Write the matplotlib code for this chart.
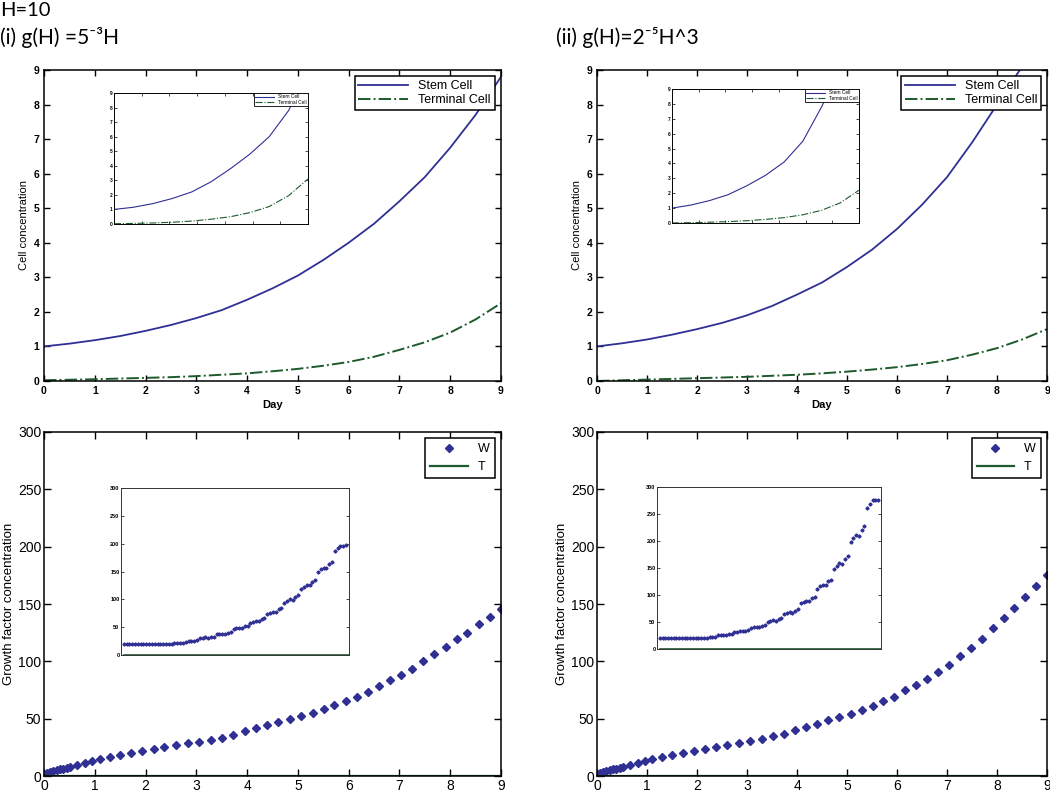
import matplotlib
matplotlib.use("Agg")
import matplotlib.pyplot as plt
import numpy as np

plt.rcParams["font.family"] = ["Liberation Sans", "DejaVu Sans"]

# top row: cell concentration vs day
day = [0, 0.5, 1, 1.5, 2, 2.5, 3, 3.5, 4, 4.5, 5, 5.5, 6, 6.5, 7, 7.5, 8, 8.5, 9]
stem_i = [1.0, 1.08, 1.18, 1.3, 1.45, 1.62, 1.82, 2.05, 2.35, 2.68, 3.05, 3.5, 4.0, 4.55, 5.2, 5.9, 6.75, 7.7, 8.8]
term_i = [0.02, 0.035, 0.05, 0.07, 0.09, 0.11, 0.14, 0.18, 0.22, 0.28, 0.35, 0.44, 0.55, 0.7, 0.9, 1.12, 1.4, 1.78, 2.25]
stem_ii = [1.0, 1.09, 1.2, 1.34, 1.5, 1.68, 1.9, 2.17, 2.5, 2.85, 3.3, 3.8, 4.4, 5.1, 5.9, 6.9, 8.0, 9.1, 10.2]
term_ii = [0.0, 0.02, 0.04, 0.06, 0.08, 0.1, 0.12, 0.15, 0.18, 0.22, 0.27, 0.33, 0.4, 0.49, 0.6, 0.76, 0.95, 1.2, 1.5]

# top insets (no x labels, fraction of run)
frac = [0, 0.1, 0.2, 0.3, 0.4, 0.5, 0.6, 0.7, 0.8, 0.9, 1.0]
ins_stem_i = [1.0, 1.15, 1.4, 1.75, 2.2, 2.9, 3.8, 4.8, 6.0, 7.8, 10.5]
ins_term_i = [0.02, 0.04, 0.07, 0.12, 0.2, 0.33, 0.5, 0.78, 1.2, 1.95, 3.1]
ins_stem_ii = [1.0, 1.2, 1.5, 1.9, 2.5, 3.2, 4.1, 5.5, 7.8, 10.5, 13.0]
ins_term_ii = [0.0, 0.02, 0.05, 0.09, 0.15, 0.24, 0.36, 0.55, 0.85, 1.35, 2.2]

# bottom row: growth factor W vs day
t_w = [0, 0.05, 0.11, 0.18, 0.25, 0.31, 0.38, 0.45, 0.51, 0.65, 0.81, 0.95, 1.10, 1.30, 1.50,
       1.72, 1.93, 2.16, 2.37, 2.60, 2.84, 3.05, 3.29, 3.51, 3.73, 3.95, 4.17, 4.39, 4.61, 4.84,
       5.07, 5.29, 5.51, 5.72, 5.94, 6.16, 6.38, 6.60, 6.82, 7.04, 7.25, 7.47, 7.69, 7.91, 8.13,
       8.34, 8.56, 8.78, 9.0]
w_i = [2.0, 2.9, 3.8, 4.6, 5.2, 5.8, 6.5, 7.0, 7.5, 9.3, 11.3, 13.1, 15.1, 16.9, 18.3,
       20.1, 21.5, 23.2, 25.0, 26.7, 28.5, 29.9, 31.4, 33.5, 36.0, 39.0, 41.5, 44.5, 47.0, 49.5,
       52.3, 54.6, 58.4, 61.9, 65.4, 69.2, 73.5, 78.2, 83.7, 88.1, 93.6, 100.0, 106.1, 112.5, 119.4,
       124.9, 132.2, 138.3, 145.6]
w_ii = [2.0, 2.9, 3.8, 4.6, 5.2, 5.8, 6.5, 7.0, 7.5, 9.3, 11.3, 13.1, 15.1, 16.9, 18.4,
        20.2, 21.7, 23.5, 25.3, 27.1, 29.0, 30.6, 32.3, 34.5, 37.0, 40.0, 42.7, 45.7, 48.5, 51.2,
        54.1, 57.5, 61.3, 65.7, 69.2, 74.7, 79.1, 84.6, 90.9, 97.1, 104.4, 111.6, 119.7, 128.8, 137.8,
        146.8, 155.8, 165.7, 175.2]

# bottom insets
ins_w_i = [20] * 18 + [21, 21, 22, 22, 24, 25, 25, 25, 27, 30, 31, 32, 30, 32, 33, 37, 38, 38, 38, 40,
           41, 47, 48, 48, 48, 52, 53, 58, 60, 61, 62, 64, 66, 74, 76, 78, 78, 82, 85, 94, 97, 100,
           98, 104, 107, 119, 122, 125, 126, 131, 134, 150, 154, 157, 156, 164, 168, 187, 192, 195,
           196, 198]
ins_w_ii = [20] * 15 + [21, 21, 21, 22, 22, 23, 25, 25, 26, 26, 27, 28, 31, 32, 33, 33, 34, 35, 39,
            40, 41, 41, 43, 45, 50, 52, 53, 52, 56, 58, 65, 67, 68, 67, 71, 74, 85, 87, 89, 89, 94,
            97, 112, 116, 119, 118, 125, 128, 149, 154, 159, 158, 167, 172, 199, 205, 211, 209, 220,
            228, 261, 268, 276, 275, 275]

navy = "#2f2f94"
green = "#1d5a2c"

fig = plt.figure(figsize=(10.5, 7.96), dpi=100)


def style(ax, size, ticklen=4, pad=3.5):
    ax.tick_params(direction="in", top=True, right=True, labelsize=size, length=ticklen, width=1, pad=pad)
    for s in ax.spines.values():
        s.set_linewidth(1.1)
    for lab in ax.get_xticklabels() + ax.get_yticklabels():
        lab.set_fontweight("bold")


def top_panel(rect, stem, term, inrect, istem, iterm):
    ax = fig.add_axes(rect)
    ax.plot(day, stem, color=navy, lw=1.3, label="Stem Cell")
    ax.plot(day, term, color=green, lw=1.4, ls="-.", label="Terminal Cell")
    ax.set_xlim(0, 9)
    ax.set_ylim(0, 9)
    ax.set_xticks(range(10))
    ax.set_yticks(range(10))
    ax.set_xlabel("Day", fontsize=8, fontweight="bold", labelpad=3)
    ax.set_ylabel("Cell concentration", fontsize=8, labelpad=3)
    style(ax, 7.5)
    ax.legend(loc="upper right", fontsize=9, handlelength=4, fancybox=False,
              edgecolor="black", framealpha=1, borderaxespad=0.5, borderpad=0.3,
              labelspacing=0.2).get_frame().set_linewidth(1.1)

    ia = fig.add_axes(inrect)
    ia.plot(frac, istem, color=navy, lw=0.8, label="Stem Cell")
    ia.plot(frac, iterm, color=green, lw=0.8, ls="-.", label="Terminal Cell")
    ia.set_xlim(0, 1)
    ia.set_ylim(0, 9)
    ia.set_yticks(range(10))
    ia.set_xticks(np.linspace(0, 1, 8))
    ia.set_xticklabels([])
    ia.tick_params(direction="in", top=True, right=True, labelsize=3.5, length=2, width=0.5, pad=1)
    for lab in ia.get_yticklabels():
        lab.set_fontweight("bold")
    for s in ia.spines.values():
        s.set_linewidth(0.7)
    ia.legend(loc="upper right", fontsize=3.5, handlelength=4, fancybox=False,
              edgecolor="black", framealpha=1, borderaxespad=0.1, borderpad=0.2,
              labelspacing=0.1).get_frame().set_linewidth(0.6)


def bottom_panel(rect, w, inrect, iw):
    ax = fig.add_axes(rect)
    ax.plot(t_w, w, ls="none", marker="D", ms=4, color=navy, mec=navy, label="W")
    ax.plot([0, 9], [0, 0], color=green, lw=1.6, label="T")
    ax.set_xlim(0, 9)
    ax.set_ylim(0, 300)
    ax.set_xticks(range(10))
    ax.set_yticks(range(0, 301, 50))
    ax.set_ylabel("Growth factor concentration", fontsize=9.5, labelpad=2)
    style(ax, 10, ticklen=5, pad=2)
    for lab in ax.get_xticklabels() + ax.get_yticklabels():
        lab.set_fontweight("normal")
    ax.legend(loc="upper right", fontsize=9, handlelength=3, fancybox=False,
              edgecolor="black", framealpha=1, borderaxespad=0.5, borderpad=0.4,
              labelspacing=0.5).get_frame().set_linewidth(1.1)

    ia = fig.add_axes(inrect)
    idx = np.arange(len(iw))
    ia.plot(idx, iw, ls="none", marker="D", ms=1.6, color=navy, mec=navy)
    ia.plot([0, len(iw)], [0, 0], color=green, lw=1.2)
    ia.set_xlim(-1, len(iw))
    ia.set_ylim(0, 300)
    ia.set_yticks(range(0, 301, 50))
    ia.set_xticks([])
    ia.tick_params(direction="in", right=True, labelsize=4, length=2, width=0.5, pad=1)
    for lab in ia.get_yticklabels():
        lab.set_fontweight("bold")
    for s in ia.spines.values():
        s.set_linewidth(0.7)
        s.set_color("#333333")


top_panel([0.0419, 0.5214, 0.4352, 0.3907], stem_i, term_i,
          [0.1086, 0.7186, 0.1848, 0.1646], ins_stem_i, ins_term_i)
top_panel([0.5686, 0.5214, 0.4286, 0.3907], stem_ii, term_ii,
          [0.6400, 0.7199, 0.1781, 0.1683], ins_stem_ii, ins_term_ii)
bottom_panel([0.0419, 0.0251, 0.4352, 0.4322], w_i,
             [0.1152, 0.1771, 0.2171, 0.2098], ins_w_i)
bottom_panel([0.5686, 0.0251, 0.4286, 0.4322], w_ii,
             [0.6257, 0.1847, 0.2133, 0.2035], ins_w_ii)

tfont = ["Lato", "DejaVu Sans"]
fig.text(0.0, 0.998, "H=10", fontsize=14.5, family=tfont, va="top", ha="left")
fig.text(0.0, 0.966, "(i) g(H) =5\u207b\u00b3H", fontsize=15, family=tfont, va="top", ha="left")
fig.text(0.530, 0.966, "(ii) g(H)=2\u207b\u2075H^3", fontsize=15, family=tfont, va="top", ha="left")

fig.savefig("out.png", dpi=100)
